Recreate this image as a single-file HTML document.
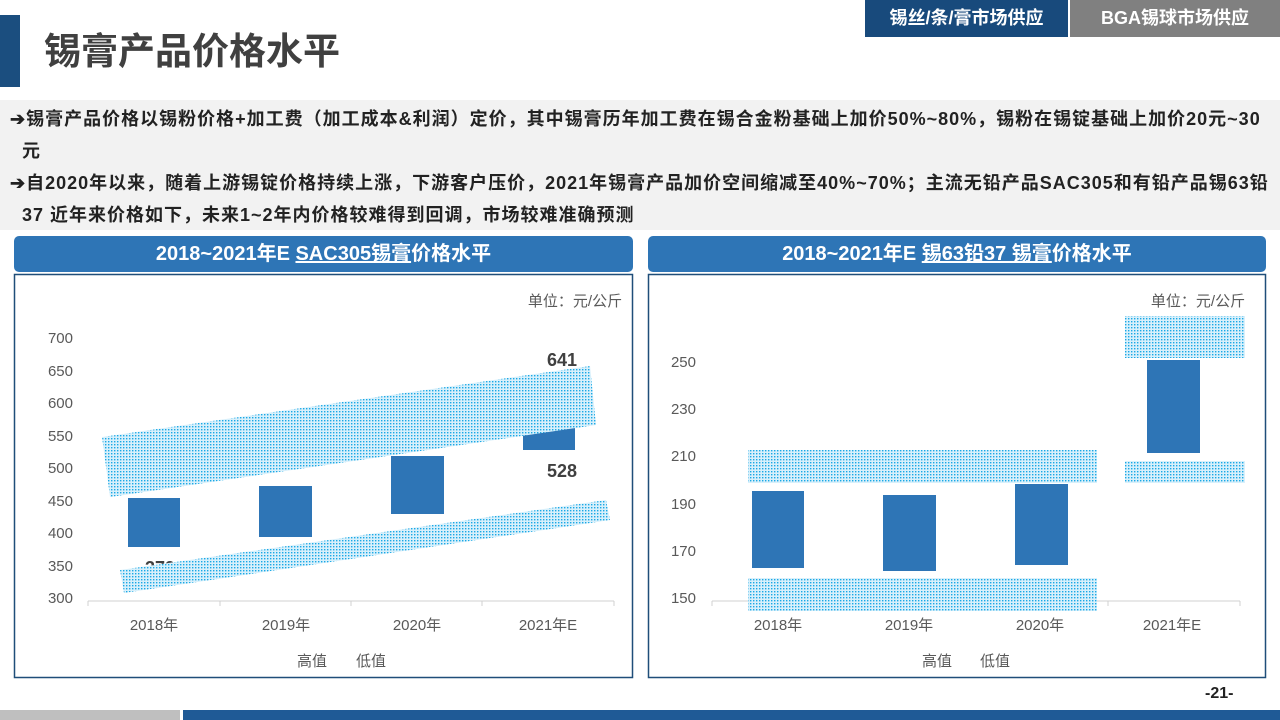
<!DOCTYPE html>
<html><head><meta charset="utf-8"><style>
body{margin:0;width:1280px;height:720px;position:relative;background:#fff;font-family:"Liberation Sans","Noto Sans CJK SC",sans-serif;overflow:hidden}
.a{position:absolute}
</style></head><body>
<div class="a" style="left:0;top:15px;width:20px;height:72px;background:#1b4e7f"></div>
<div class="a" style="left:44px;top:28px;font-size:37px;font-weight:bold;color:#404040;line-height:48px">锡膏产品价格水平</div>
<div class="a" style="left:865px;top:0;width:203px;height:37px;background:#184a7c;color:#fff;font-weight:bold;font-size:18px;line-height:36px;text-align:center">锡丝/条/膏市场供应</div>
<div class="a" style="left:1070px;top:0;width:210px;height:37px;background:#808080;color:#fff;font-weight:bold;font-size:18px;line-height:36px;text-align:center">BGA锡球市场供应</div>
<div class="a" style="left:0;top:100px;width:1280px;height:130px;background:#f2f2f2"></div>
<div class="a" style="left:10px;top:103px;width:1275px;font-size:18px;letter-spacing:1px;font-weight:bold;color:#222;line-height:32px;white-space:nowrap">➔锡膏产品价格以锡粉价格+加工费（加工成本&amp;利润）定价，其中锡膏历年加工费在锡合金粉基础上加价50%~80%，锡粉在锡锭基础上加价20元~30<br>&nbsp;&nbsp;元<br>➔自2020年以来，随着上游锡锭价格持续上涨，下游客户压价，2021年锡膏产品加价空间缩减至40%~70%；主流无铅产品SAC305和有铅产品锡63铅<br>&nbsp;&nbsp;37 近年来价格如下，未来1~2年内价格较难得到回调，市场较难准确预测</div>
<div class="a" style="left:14px;top:236px;width:619px;height:36px;background:#2e75b6;border-radius:5px;color:#fff;font-weight:bold;font-size:20px;line-height:36px;text-align:center">2018~2021年E <u>SAC305锡膏</u>价格水平</div>
<div class="a" style="left:648px;top:236px;width:618px;height:36px;background:#2e75b6;border-radius:5px;color:#fff;font-weight:bold;font-size:20px;line-height:36px;text-align:center">2018~2021年E <u>锡63铅37 锡膏</u>价格水平</div>
<svg class="a" style="left:0;top:0" width="1280" height="720" font-family="Liberation Sans, Noto Sans CJK SC, sans-serif">
<defs><pattern id="d" width="3" height="3" patternUnits="userSpaceOnUse"><rect width="3" height="3" fill="#d8f0fb"/><rect width="1.4" height="1.4" fill="#19a8e6"/></pattern></defs>
<rect x="14.5" y="274.5" width="618" height="403" fill="none" stroke="#1f4e79" stroke-width="1.5"/>
<rect x="648.5" y="274.5" width="617" height="403" fill="none" stroke="#1f4e79" stroke-width="1.5"/>
<g font-size="15" fill="#595959" text-anchor="end">
<text x="73" y="343">700</text><text x="73" y="376">650</text><text x="73" y="408">600</text><text x="73" y="441">550</text><text x="73" y="473">500</text><text x="73" y="538">400</text><text x="73" y="506">450</text><text x="73" y="571">350</text><text x="73" y="603">300</text>
<text x="696" y="367">250</text><text x="696" y="414">230</text><text x="696" y="461">210</text><text x="696" y="509">190</text><text x="696" y="556">170</text><text x="696" y="603">150</text>
</g>
<g stroke="#d0d0d0"><line x1="88" y1="601" x2="614" y2="601"/><line x1="712" y1="601" x2="1240" y2="601"/>
<path d="M88 601v5M220 601v5M351 601v5M482 601v5M614 601v5M712 601v5M844 601v5M976 601v5M1108 601v5M1240 601v5"/></g>
<g font-size="15" fill="#595959" text-anchor="middle">
<text x="154" y="630">2018年</text><text x="286" y="630">2019年</text><text x="417" y="630">2020年</text><text x="548" y="630">2021年E</text>
<text x="778" y="630">2018年</text><text x="909" y="630">2019年</text><text x="1040" y="630">2020年</text><text x="1172" y="630">2021年E</text>
<text x="312" y="666">高值</text><text x="371" y="666">低值</text><text x="937" y="666">高值</text><text x="995" y="666">低值</text>
<text x="575" y="306">单位：元/公斤</text><text x="1198" y="306">单位：元/公斤</text>
</g>
<g fill="#2e75b6">
<rect x="128" y="498" width="52" height="49"/><rect x="259" y="486" width="53" height="51"/><rect x="391" y="456" width="53" height="58"/><rect x="523" y="420" width="52" height="30"/>
<rect x="752" y="491" width="52" height="77"/><rect x="883" y="495" width="53" height="76"/><rect x="1015" y="484" width="53" height="81"/><rect x="1147" y="360" width="53" height="93"/>
</g>
<g font-size="18" font-weight="bold" fill="#404040" text-anchor="middle"><text x="562" y="366">641</text><text x="562" y="477">528</text><text x="160" y="574">379</text><text x="296" y="466">474</text></g>
<g fill="url(#d)">
<polygon points="102,437 590,366 596,425 110,497"/>
<polygon points="120,570 606,500 610,520 124,593"/>
<rect x="1125" y="316" width="120" height="42"/><rect x="1125" y="461" width="120" height="22"/>
<rect x="748" y="450" width="349" height="33"/><rect x="748" y="578" width="349" height="33"/>
</g>
</svg>
<div class="a" style="left:1205px;top:685px;font-size:16px;font-weight:bold;color:#222">-21-</div>
<div class="a" style="left:0;top:710px;width:180px;height:10px;background:#bfbfbf"></div>
<div class="a" style="left:183px;top:710px;width:1097px;height:10px;background:#1f5a96"></div>
</body></html>
